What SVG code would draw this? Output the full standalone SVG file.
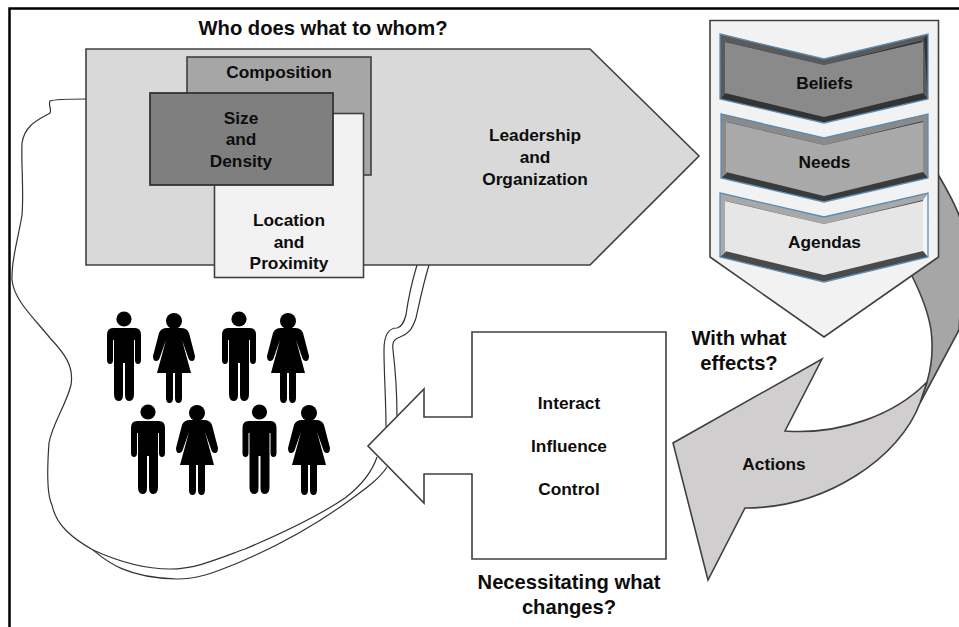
<svg xmlns="http://www.w3.org/2000/svg" width="959" height="627" viewBox="0 0 959 627">
<style>
text{font-family:"Liberation Sans",Arial,sans-serif;font-weight:700;fill:#0d0d0d;text-anchor:middle;font-size:17.3px}
.t{font-size:20.2px}
.s{stroke:#404040;stroke-width:1.6}
.w{fill:none;stroke:#333;stroke-width:1.2}
.chev{stroke:#5b8db5;stroke-width:1.3}
.bev{filter:url(#soft)}
</style>
<defs>
<filter id="soft" x="-5%" y="-5%" width="110%" height="110%"><feGaussianBlur stdDeviation="0.7"/></filter>
<g id="man"><circle cx="0" cy="0" r="7.600" fill="#000"/>
<path d="M-11 9H11Q17 9 17 16V41Q17 45 14 45Q11 45 11 41V21H10V75Q10 82 5.500 82Q1 82 1 76V44H-1V76Q-1 82-5.500 82Q-10 82-10 75V21H-11V41Q-11 45-14 45Q-17 45-17 41V16Q-17 9-11 9Z" fill="#000"/></g>
<g id="woman"><circle cx="0" cy="0" r="8" fill="#000"/>
<path d="M-7 7H7Q13 7 15 12L21 35Q21 40 18 40Q15 40 14 36L8 19L17 52H8V77Q8 82 4.500 82Q1 82 1 77V52H-1V77Q-1 82-4.500 82Q-8 82-8 77V52H-17L-8 19L-14 36Q-15 40-18 40Q-21 40-21 35L-15 12Q-13 7-7 7Z" fill="#000"/></g>
</defs>
<rect width="959" height="627" fill="#fff"/>
<g id="frame"><path d="M9.500 627V8.500H959" fill="none" stroke="#000" stroke-width="2.500"/></g>
<g id="title"><text class="t" x="323" y="35">Who does what to whom?</text></g>
<g id="connectors">
<path class="w" d="M86 99C70 99 55 99 50 101C48 105 52 110 50 113C40 119 25 124 22 143C21 165 24 190 22 215C18 240 11 260 12 280C14 300 33 317 50 338C65 354 74 366 71 385C66 405 52 425 49 443C47 470 47 495 52 505C56 525 72 538 93 550C115 560 140 569 170 569C195 569 215 560 245 549C285 532 320 515 345 498C362 485 372 472 377 457"/>
<path class="w" d="M93 550C105 560 125 578 177 579C200 579 215 572 240 562C280 545 320 522 350 500C368 487 380 478 387 467"/>
<path class="w" d="M417 265C411 285 408 300 406 315C404 322 402 327 397 328C388 328 384 335 384 350C384 375 386 400 386 427"/>
<path class="w" d="M429 265C423 285 420 300 416 318C412 330 408 334 400 337C394 339 392 342 393 350C396 375 397 395 397 417"/>
</g>
<g id="leadership"><path class="s" d="M86 49H590L699 156L590 265H86Z" fill="#d9d9d9"/><text x="535" y="141">Leadership</text><text x="535" y="163">and</text><text x="535" y="185">Organization</text></g>
<g id="composition"><rect class="s" x="187" y="57" width="184" height="118" fill="#a6a6a6"/><text x="279" y="78">Composition</text></g>
<g id="location"><rect class="s" x="214.500" y="113.500" width="149" height="164" fill="#f2f2f2"/><text x="289" y="226">Location</text><text x="289" y="248">and</text><text x="289" y="269">Proximity</text></g>
<g id="size"><rect x="150" y="93" width="183" height="92" fill="#7f7f7f" stroke="#333" stroke-width="1.800"/><text x="241" y="124">Size</text><text x="241" y="145">and</text><text x="241" y="167">Density</text></g>
<g id="curved-arrow">
<path class="s" d="M939 176C950 195 961 215 965 235L959 330L920 403L927 382C932 365 933 345 931 330C928 310 920 292 912 276Z" fill="#a6a6a6"/>
<path class="s" d="M927 382L920 403C900 457 827 508 745 508L708 580L673 443L822 359L785 431C840 435 895 415 927 382Z" fill="#d0cece"/>
<text x="774" y="470">Actions</text>
</g>
<g id="beliefs-stack"><path class="s" d="M710 20.500H938.500V257L824 337L710 257Z" fill="#f2f2f2"/>
<g id="beliefs"><path d="M720 34L824 59L928 34V99L824 123L720 99Z" fill="#333"/><path class="bev" d="M720 34L824 59L928 34L922 41V92L928 99L924 40L824 65L726 42V93L720 99Z" fill="#5a5a5a"/><path class="bev" d="M725 42L824 65L923 42V93L824 117L725 93Z" fill="#8a8a8a"/><path class="chev" fill="none" d="M720 34L824 59L928 34V99L824 123L720 99Z"/><text x="824.500" y="89">Beliefs</text></g>
<g id="needs"><path d="M721 114L824 138L928 114V178L824 202L721 178Z" fill="#3a3a3a"/><path class="bev" d="M721 114L824 138L928 114V178L923 172L923 121L824 145L727 122V173L721 178Z" fill="#8a8a8a"/><path class="bev" d="M726 122L824 145L923 122V172L824 196L726 172Z" fill="#a9a9a9"/><path class="chev" fill="none" d="M721 114L824 138L928 114V178L824 202L721 178Z"/><text x="824.500" y="168">Needs</text></g>
<g id="agendas"><path d="M720 193L824 217L928 193V257L824 282L720 257Z" fill="#4a4a4a"/><path class="bev" d="M720 193L824 217L928 193L923 200L824 224L726 201V252L720 257Z" fill="#a8a8a8"/><path class="bev" d="M923 200L928 193V257L923 251Z" fill="#f4f4f4"/><path class="bev" d="M725 201L824 224L923 201V251L824 275L725 251Z" fill="#e6e6e6"/><path class="chev" fill="none" d="M720 193L824 217L928 193V257L824 282L720 257Z"/><text x="824.500" y="248">Agendas</text></g>
</g>
<g id="callout"><path class="s" d="M472 332H666V559H472V474H424V503L368 446L424 389V417H472Z" fill="#fff"/><text x="569" y="409">Interact</text><text x="569" y="452">Influence</text><text x="569" y="495">Control</text></g>
<g id="effects-label"><text class="t" x="739" y="345">With what</text><text class="t" x="739" y="370">effects?</text></g>
<g id="changes-label"><text class="t" x="569" y="589">Necessitating what</text><text class="t" x="569" y="614">changes?</text></g>
<g id="people">
<use href="#man" x="124" y="319"/><use href="#woman" x="174" y="321"/><use href="#man" x="239" y="319"/><use href="#woman" x="288" y="321"/>
<use href="#man" x="148" y="412"/><use href="#woman" x="197" y="413"/><use href="#man" x="259.500" y="412"/><use href="#woman" x="309" y="413"/>
</g>
</svg>
